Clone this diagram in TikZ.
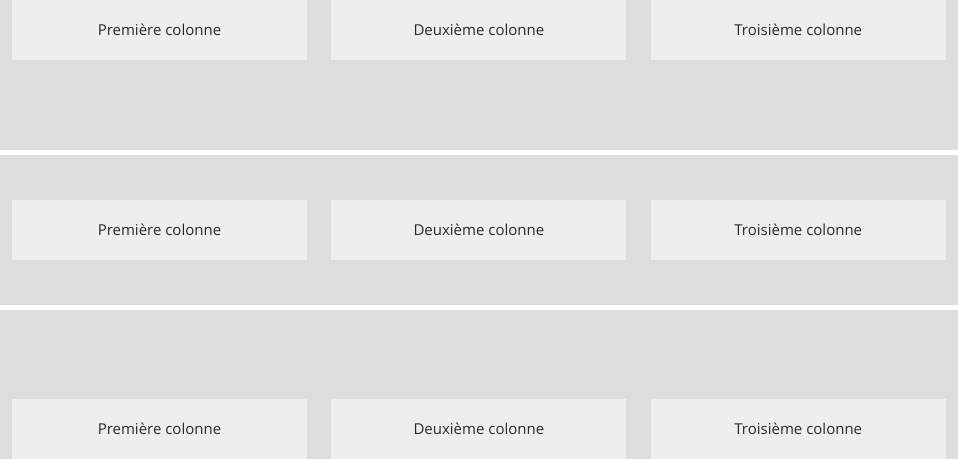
\documentclass[tikz,border=0pt]{standalone}
\usepackage{fontspec}
\setmainfont{Open Sans}
\usetikzlibrary{positioning}

\definecolor{bandgray}{HTML}{DDDDDD}
\definecolor{cellgray}{HTML}{EEEEEE}
\definecolor{textgray}{HTML}{2A2A2A}

\begin{document}
\begin{tikzpicture}[
        x=1pt, y=-1pt,
        band/.style={fill=bandgray, inner sep=0pt, minimum width=958pt, anchor=north west},
        cell/.style={fill=cellgray, inner sep=0pt, minimum width=295pt, minimum height=60pt, font=\fontsize{15}{15}\selectfont\color{textgray}},
        node distance=24pt
      ]

      \useasboundingbox[fill=white] (0,0) rectangle (958,459);

      % the three rows
      \node (R1) at (0, 0) [band, minimum height=150pt] {};
      \node (R2) at (0, 155) [band, minimum height=150pt] {};
      \node (R3) at (0, 310) [band, minimum height=149pt] {};

      % row aligned to the top
      \node (A1) at (159.5, 30) [cell] {Première colonne};
      \node (A2) [right=of A1, cell] {Deuxième colonne};
      \node (A3) [right=of A2, cell] {Troisième colonne};

      % row aligned to the middle
      \node (B1) at (159.5, 230) [cell] {Première colonne};
      \node (B2) [right=of B1, cell] {Deuxième colonne};
      \node (B3) [right=of B2, cell] {Troisième colonne};

      % row aligned to the bottom
      \node (C1) at (159.5, 429) [cell] {Première colonne};
      \node (C2) [right=of C1, cell] {Deuxième colonne};
      \node (C3) [right=of C2, cell] {Troisième colonne};
    \end{tikzpicture}
\end{document}
